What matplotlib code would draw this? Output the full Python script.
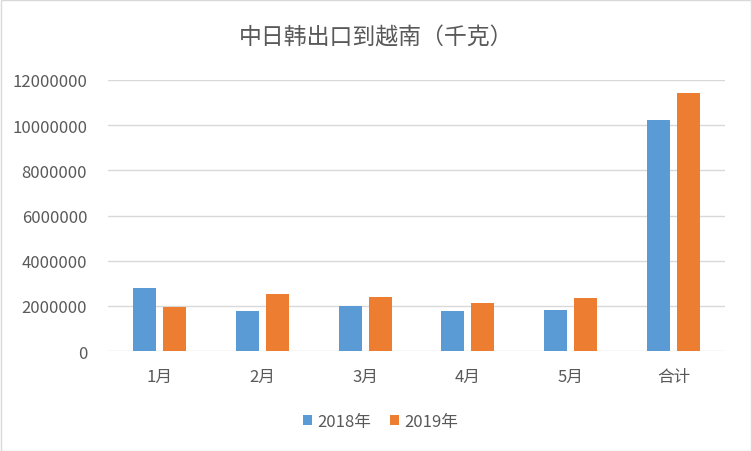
import matplotlib
matplotlib.use("Agg")
import matplotlib.pyplot as plt
import numpy as np
from matplotlib.ticker import FuncFormatter
from matplotlib.patches import Rectangle

plt.rcParams['font.family'] = ['Noto Sans CJK SC', 'DejaVu Sans']

categories = ["1月", "2月", "3月", "4月", "5月", "合计"]
series_names = ["2018年", "2019年"]
values_2018 = [2790000, 1760000, 1990000, 1760000, 1810000, 10250000]
values_2019 = [1940000, 2520000, 2390000, 2120000, 2340000, 11410000]
colors = ["#5B9BD5", "#ED7D31"]
title = "中日韩出口到越南（千克）"

fig = plt.figure(figsize=(7.52, 4.52), dpi=100)
fig.patch.set_facecolor("white")
fig.patches.append(Rectangle((0.001, 0.001), 0.998, 0.997, transform=fig.transFigure,
                             fill=False, edgecolor="#D9D9D9", linewidth=1))
ax = fig.add_axes([0.1436, 0.2212, 0.8204, 0.5996])

x = np.arange(len(categories))
w = 0.224
off = 0.146
ax.bar(x - off, values_2018, width=w, color=colors[0], label=series_names[0], zorder=3)
ax.bar(x + off, values_2019, width=w, color=colors[1], label=series_names[1], zorder=3)

ax.set_xlim(-0.5, len(categories) - 0.5)
ax.set_ylim(0, 12000000)
ax.set_yticks(np.arange(0, 12000001, 2000000))
ax.yaxis.set_major_formatter(FuncFormatter(lambda v, p: f"{int(v)}"))
ax.grid(axis="y", color="#D9D9D9", linewidth=1, zorder=0)
for s in ["top", "right", "left", "bottom"]:
    ax.spines[s].set_visible(False)
ax.tick_params(axis="both", length=0, colors="#595959", labelsize=12)
ax.tick_params(axis="y", pad=15)
ax.tick_params(axis="x", pad=12)
ax.set_xticks(x)
ax.set_xticklabels(categories)

fig.text(0.5, 0.915, title, ha="center", va="center", fontsize=16.5, color="#595959")

h, l = ax.get_legend_handles_labels()
fig.legend(h, l, loc="center", bbox_to_anchor=(0.506, 0.066), ncol=2, frameon=False,
           fontsize=12, handlelength=0.55, handleheight=0.55, handletextpad=0.3,
           columnspacing=1.1, labelcolor="#595959")

fig.savefig("out.png", dpi=100)
